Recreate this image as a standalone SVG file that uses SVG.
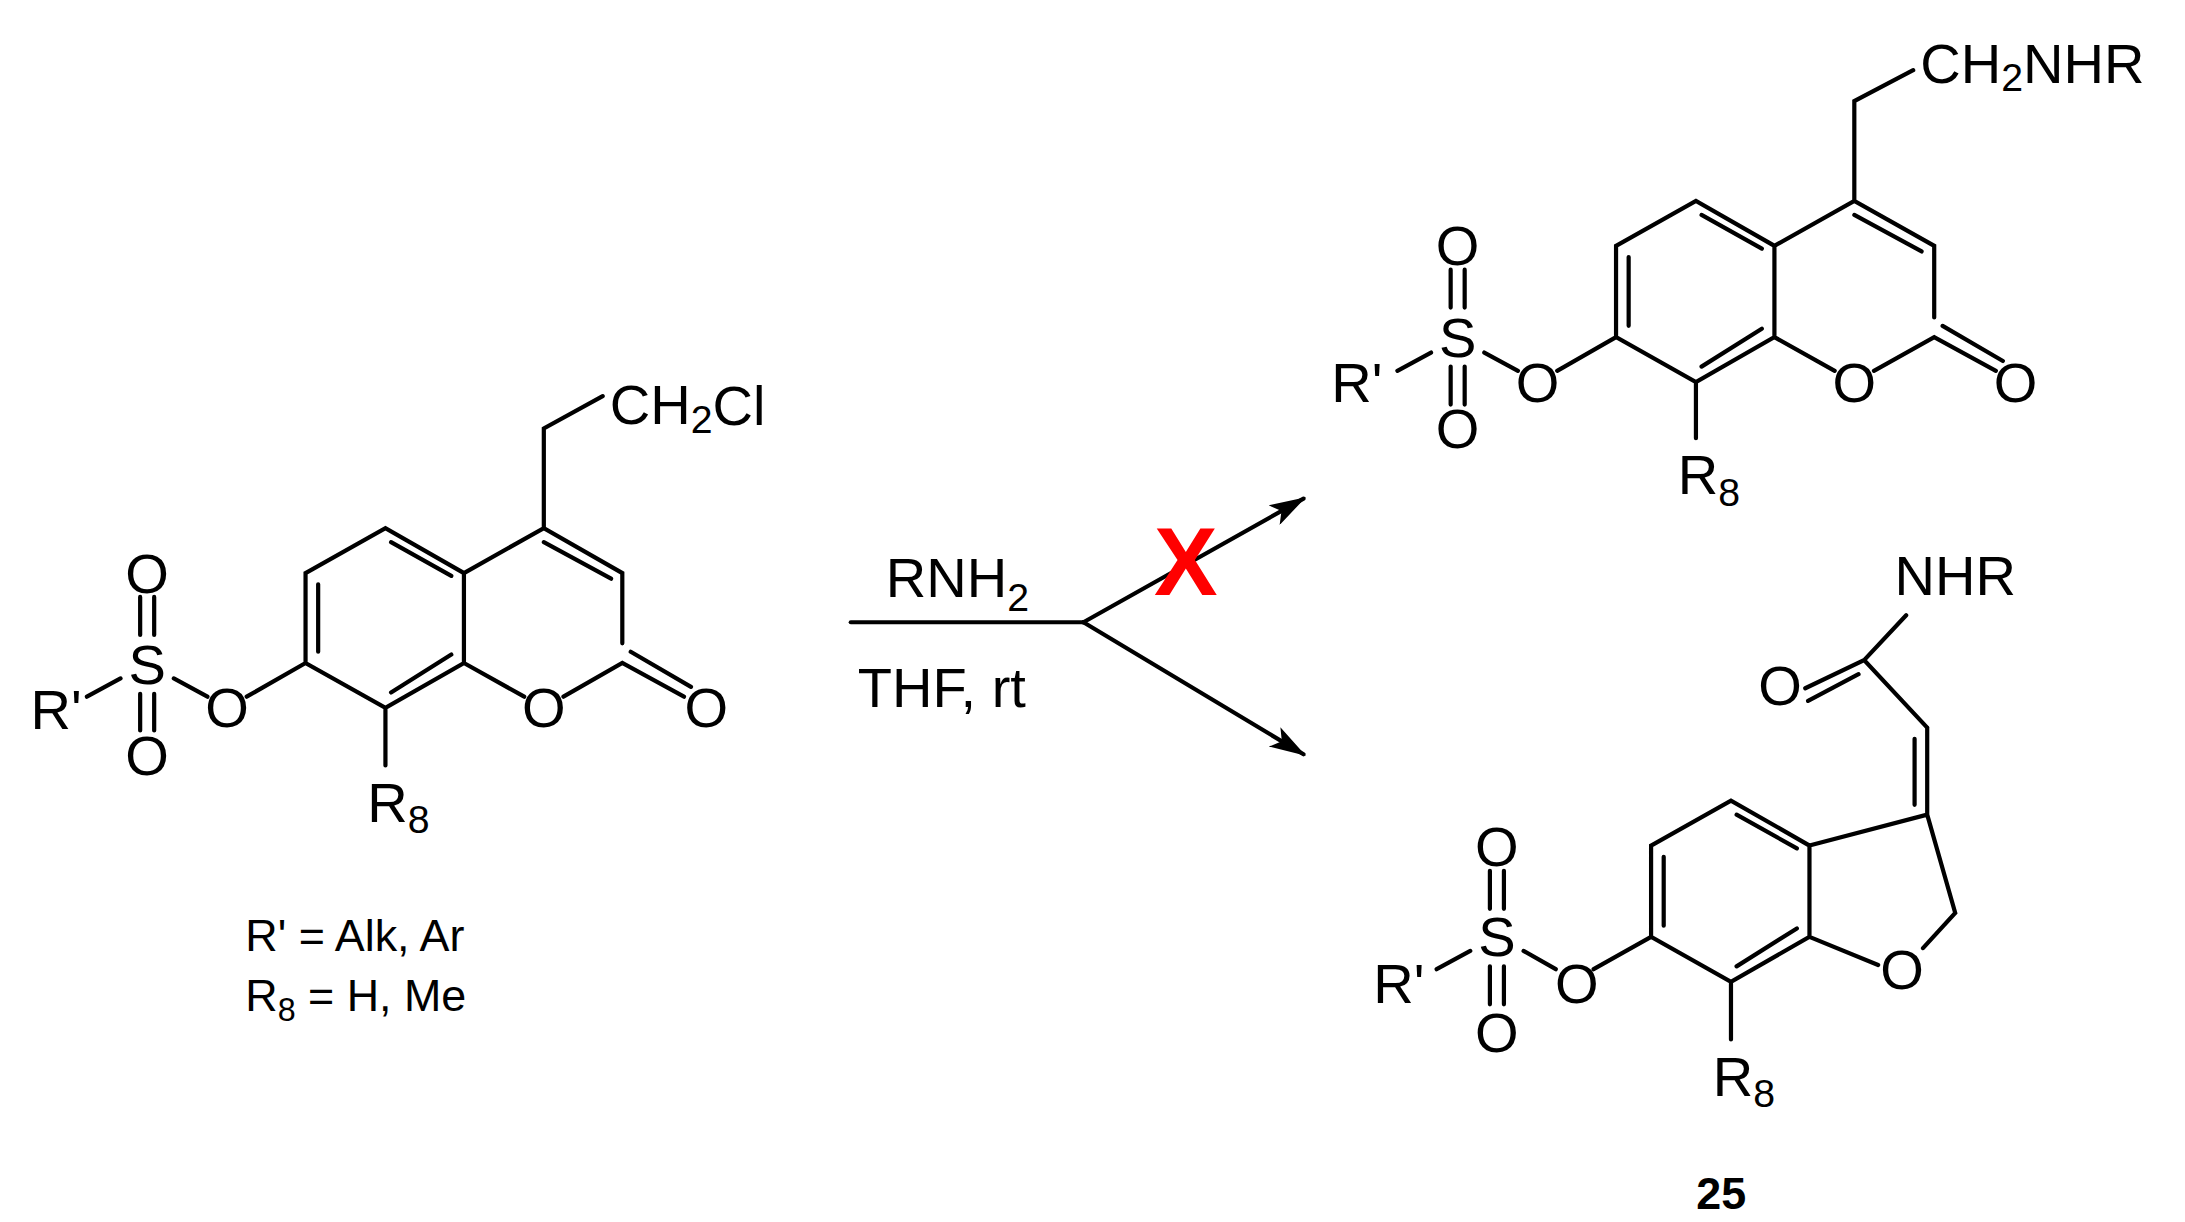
<svg xmlns="http://www.w3.org/2000/svg" width="2185" height="1222" viewBox="0 0 2185 1222">
<style>
.b{stroke:#000;stroke-width:3;fill:none;stroke-linecap:round}
text{font-family:"Liberation Sans",Arial,sans-serif;font-size:40px;fill:#000}
.c{text-anchor:middle;dominant-baseline:central}
.s{font-size:28px}
</style>
<defs><marker id="ah" markerWidth="26" markerHeight="16" refX="24" refY="8" orient="auto" markerUnits="userSpaceOnUse" viewBox="0 0 26 16"><path d="M0,0 L26,8 L0,16 L6,8z" fill="#000"/></marker></defs>
<rect width="2185" height="1222" fill="#fff"/>
<g transform="scale(1.4016,1.4046)">
<g id="reactant">
<path class="b" d="M218,408 L275,376 L331,408 L331,472 L275,504 L218,472 Z M227,416 L227,464 M279,386 L322,410 M322,466 L279,493 M331,408 L388,376 L444,408 L444,458 M388,386 L436,412 M331,472 L374,496 M402,496 L444,472 L488,496 M450,464 L493,489 M388,376 L388,305 L430,282 M218,472 L176,496 M148,496 L124,483 M86,483 L62,496 M100,425 L100,452 M110,425 L110,452 M100,494 L100,520 M110,494 L110,520 M275,504 L275,545"/>
<text x="435" y="288" dominant-baseline="central">CH<tspan class="s" dy="10">2</tspan><tspan dy="-10">Cl</tspan></text>
<text class="c" x="388" y="504">O</text><text class="c" x="504" y="504">O</text>
<text class="c" x="162" y="504">O</text><text class="c" x="105" y="473">S</text>
<text class="c" x="105" y="408">O</text><text class="c" x="105" y="538">O</text>
<text class="c" x="40" y="505">R'</text>
<text x="262" y="585">R<tspan class="s" dy="8">8</tspan></text>
<text x="175" y="677" style="font-size:32px">R' = Alk, Ar</text>
<text x="175" y="720" style="font-size:32px">R<tspan style="font-size:23px" dy="7">8</tspan><tspan dy="-7"> = H, Me</tspan></text>
</g>
<g id="conn">
<path class="b" d="M607,443 L773,443"/>
<path class="b" d="M773,443 L930,355" marker-end="url(#ah)"/>
<path class="b" d="M773,443 L930,537" marker-end="url(#ah)"/>
<text x="632" y="425">RNH<tspan class="s" dy="10">2</tspan></text>
<text x="612" y="503">THF, rt</text>
<text class="c" x="846" y="400" style="font-size:68px;font-weight:bold;fill:#f00">X</text>
</g>
<g id="product1">
<path class="b" d="M1153,175 L1210,143 L1266,175 L1266,240 L1210,272 L1153,240 Z M1162,183 L1162,232 M1214,153 L1257,177 M1257,234 L1214,261 M1266,175 L1323,143 L1380,175 L1380,226 M1323,153 L1371,179 M1266,240 L1309,264 M1337,264 L1380,240 L1424,264 M1386,232 L1429,257 M1323,143 L1323,72 L1365,50 M1153,240 L1111,264 M1083,264 L1059,251 M1021,251 L997,264 M1035,192 L1035,219 M1045,192 L1045,219 M1035,261 L1035,288 M1045,261 L1045,288 M1210,272 L1210,312"/>
<text x="1370" y="45" dominant-baseline="central">CH<tspan class="s" dy="10">2</tspan><tspan dy="-10">NHR</tspan></text>
<text class="c" x="1323" y="272">O</text><text class="c" x="1438" y="272">O</text>
<text class="c" x="1097" y="272">O</text><text class="c" x="1040" y="240">S</text>
<text class="c" x="1040" y="175">O</text><text class="c" x="1040" y="305">O</text>
<text class="c" x="968" y="272">R'</text>
<text x="1197" y="352">R<tspan class="s" dy="8">8</tspan></text>
</g>
<g id="product25">
<path class="b" d="M1178,602 L1235,570 L1291,602 L1291,667 L1235,699 L1178,667 Z M1187,610 L1187,659 M1239,580 L1282,604 M1282,661 L1239,688 M1291,602 L1375,580 L1395,650 L1372,675 M1291,667 L1340,687 M1375,580 L1375,518 M1366,573 L1366,526 M1375,518 L1330,470 L1288,490 M1326,480 L1290,499 M1330,470 L1360,438 M1178,667 L1137,690 M1110,690 L1087,677 M1049,677 L1025,690 M1063,620 L1063,647 M1073,620 L1073,647 M1063,688 L1063,715 M1073,688 L1073,715 M1235,699 L1235,740"/>
<text class="c" x="1357" y="690">O</text>
<text class="c" x="1270" y="488">O</text>
<text class="c" x="1395" y="410">NHR</text>
<text class="c" x="1125" y="700">O</text><text class="c" x="1068" y="667">S</text>
<text class="c" x="1068" y="603">O</text><text class="c" x="1068" y="735">O</text>
<text class="c" x="998" y="700">R'</text>
<text x="1222" y="780">R<tspan class="s" dy="8">8</tspan></text>
<text class="c" x="1228" y="850" style="font-weight:bold;font-size:32px">25</text>
</g>
</g>
</svg>
